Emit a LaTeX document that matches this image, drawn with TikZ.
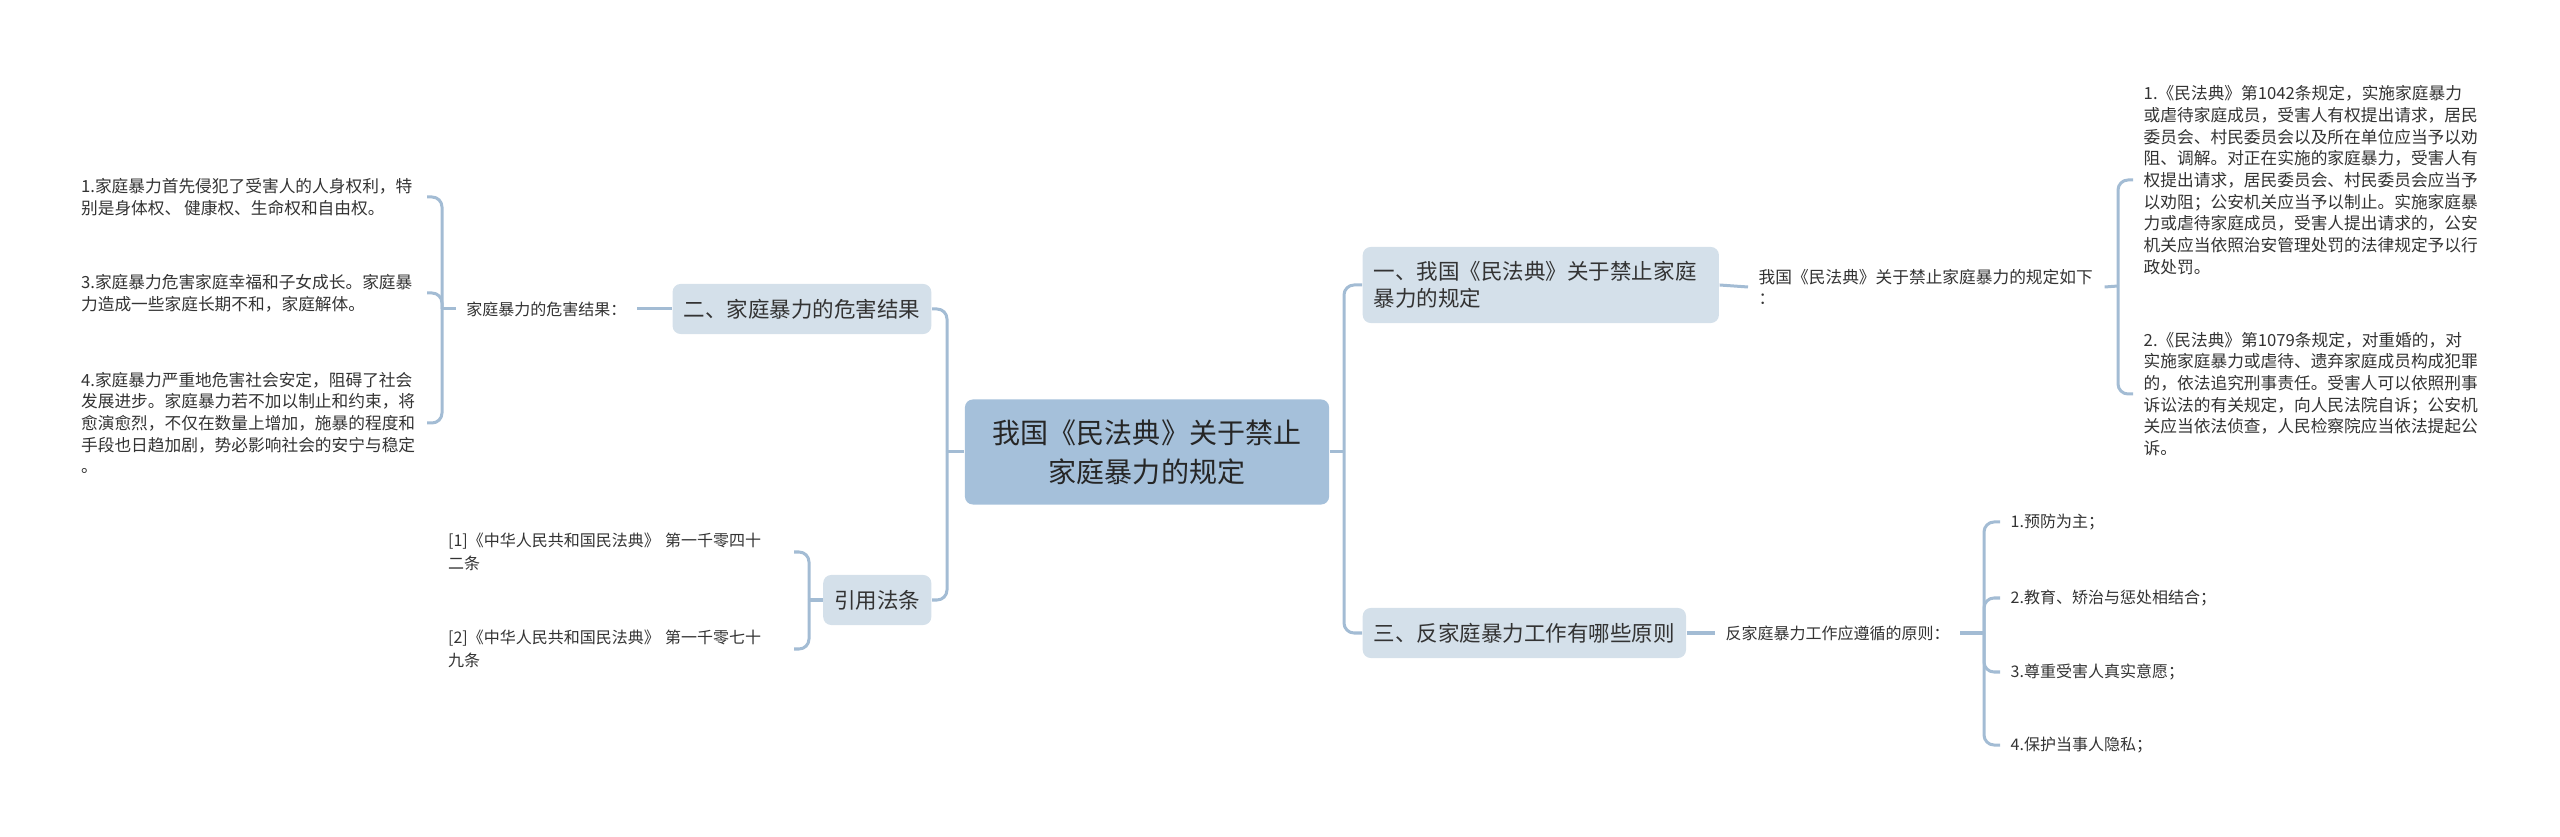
\documentclass[tikz,border=0pt]{standalone}
\usepackage{fontspec}
\setmainfont{Noto Sans CJK SC}
\usetikzlibrary{positioning}
\definecolor{rootfill}{HTML}{A5C0DA}
\definecolor{topicfill}{HTML}{D4E0EA}
\definecolor{linkcol}{HTML}{A3BCD4}
\definecolor{textcol}{HTML}{333333}
\newcommand\rootfont{\fontsize{7.97pt}{11.1pt}\selectfont}
\newcommand\topicfont{\fontsize{6.12pt}{7.68pt}\selectfont}
\newcommand\notefont{\fontsize{4.75pt}{6.17pt}\selectfont}
\newcommand\labelfont{\fontsize{4.55pt}{6.5pt}\selectfont}
\tikzset{root/.style = {fill=rootfill, rounded corners=0.08cm, align=center,
                        minimum width=3.64cm, minimum height=1.05cm, inner sep=0,
                        font=\rootfont, text=black!85}}
\tikzset{topic/.style = {fill=topicfill, rounded corners=0.08cm, minimum height=0.5cm,
                         inner xsep=0.11cm, inner ysep=0, font=\topicfont, text=textcol}}
\tikzset{note/.style = {align=left, inner xsep=0.1cm, inner ysep=0, font=\notefont, text=textcol}}
\tikzset{tag/.style = {note, font=\labelfont}}
\tikzset{link/.style = {draw=linkcol, line width=0.03cm, rounded corners=0.1cm}}

\begin{document}
\begin{tikzpicture}[x=0.01cm, y=-0.01cm]
    \useasboundingbox (0, 0) rectangle (2560, 837);
    \node [root] (root) at (1147, 452) {我国《民法典》关于禁止\\家庭暴力的规定};
    % left side
    \node [topic, anchor = east] (harm) at (932, 309) {二、家庭暴力的危害结果};
    \node [topic, anchor = east] (cite) at (932, 600) {引用法条};
    \node [tag, anchor = east] (harmtag) at (637, 309) {家庭暴力的危害结果：};
    \node [note, text width = 3.35cm, anchor = east] (harm1) at (427, 197)
        {1.家庭暴力首先侵犯了受害人的人身权利，特\\别是身体权、\,健康权、生命权和自由权。};
    \node [note, text width = 3.35cm, anchor = east] (harm3) at (427, 293)
        {3.家庭暴力危害家庭幸福和子女成长。家庭暴\\力造成一些家庭长期不和，家庭解体。};
    \node [note, text width = 3.35cm, anchor = east] (harm4) at (427, 423)
        {4.家庭暴力严重地危害社会安定，阻碍了社会\\发展进步。家庭暴力若不加以制止和约束，将\\愈演愈烈，不仅在数量上增加，施暴的程度和\\手段也日趋加剧，势必影响社会的安宁与稳定\\。};
    \node [tag, text width = 3.35cm, anchor = east] (cite1) at (794, 552)
        {[1]《中华人民共和国民法典》 第一千零四十\\二条};
    \node [tag, text width = 3.35cm, anchor = east] (cite2) at (794, 649)
        {[2]《中华人民共和国民法典》 第一千零七十\\九条};
    % right side
    \node [topic, align = left, text width = 3.34cm, minimum height = 0.76cm, anchor = west] (rule) at (1362, 285)
        {一、我国《民法典》关于禁止家庭\\暴力的规定};
    \node [topic, anchor = west] (plan) at (1362, 633) {三、反家庭暴力工作有哪些原则};
    \node [note, text width = 3.35cm, anchor = west] (ruletag) at (1748, 287)
        {我国《民法典》关于禁止家庭暴力的规定如下\\：};
    \node [note, text width = 3.35cm, anchor = west] (rule1) at (2133, 180)
        {1.《民法典》第1042条规定，实施家庭暴力\\或虐待家庭成员，受害人有权提出请求，居民\\委员会、村民委员会以及所在单位应当予以劝\\阻、调解。对正在实施的家庭暴力，受害人有\\权提出请求，居民委员会、村民委员会应当予\\以劝阻；公安机关应当予以制止。实施家庭暴\\力或虐待家庭成员，受害人提出请求的，公安\\机关应当依照治安管理处罚的法律规定予以行\\政处罚。};
    \node [note, text width = 3.35cm, anchor = west] (rule2) at (2133, 394)
        {2.《民法典》第1079条规定，对重婚的，对\\实施家庭暴力或虐待、遗弃家庭成员构成犯罪\\的，依法追究刑事责任。受害人可以依照刑事\\诉讼法的有关规定，向人民法院自诉；公安机\\关应当依法侦查，人民检察院应当依法提起公\\诉。};
    \node [tag, anchor = west] (plantag) at (1715, 633) {反家庭暴力工作应遵循的原则：};
    \node [tag, anchor = west] (plan1) at (2000, 522) {1.预防为主；};
    \node [tag, anchor = west] (plan2) at (2000, 598) {2.教育、矫治与惩处相结合；};
    \node [tag, anchor = west] (plan3) at (2000, 672) {3.尊重受害人真实意愿；};
    \node [tag, anchor = west] (plan4) at (2000, 745) {4.保护当事人隐私；};
    % junctions
    \coordinate (jleft) at (947, 452);
    \coordinate (jharm) at (442, 309);
    \coordinate (jcite) at (809, 600);
    \coordinate (jright) at (1344, 452);
    \coordinate (jrule) at (2118, 286);
    \coordinate (jplan) at (1984, 633);
    % connectors
    \draw [link] (root.west) -- (jleft);
    \draw [link] (jleft) |- (harm.east);
    \draw [link] (jleft) |- (cite.east);
    \draw [link] (harm.west) -- (harmtag.east);
    \draw [link] (harmtag.west) -- (jharm);
    \foreach \n in {harm1, harm3, harm4}
        \draw [link] (jharm) |- (\n.east);
    \draw [link] (cite.west) -- (jcite);
    \foreach \n in {cite1, cite2}
        \draw [link] (jcite) |- (\n.east);
    \draw [link] (root.east) -- (jright);
    \draw [link] (jright) |- (rule.west);
    \draw [link] (jright) |- (plan.west);
    \draw [link] (rule.east) -- (ruletag.west);
    \draw [link] (ruletag.east) -- (jrule);
    \foreach \n in {rule1, rule2}
        \draw [link] (jrule) |- (\n.west);
    \draw [link] (plan.east) -- (plantag.west);
    \draw [link] (plantag.east) -- (jplan);
    \foreach \n in {plan1, plan2, plan3, plan4}
        \draw [link] (jplan) |- (\n.west);
\end{tikzpicture}
\end{document}
